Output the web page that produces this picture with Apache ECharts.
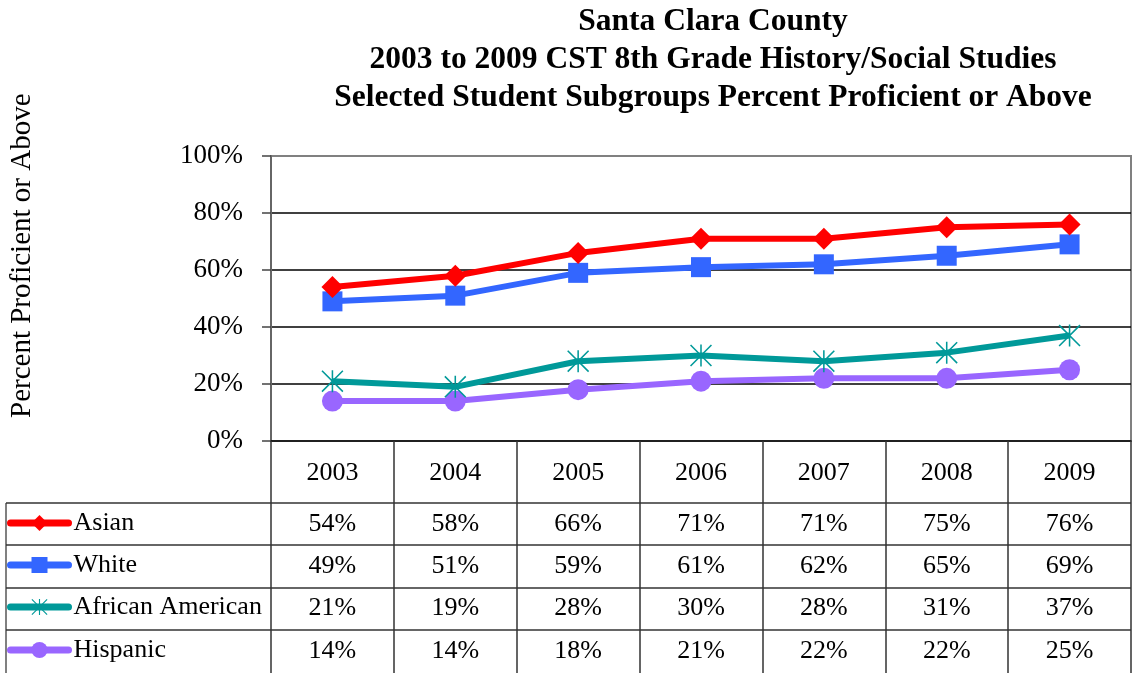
<!DOCTYPE html>
<html>
<head>
<meta charset="utf-8">
<script src="https://cdn.jsdelivr.net/npm/echarts@6/dist/echarts.min.js"></script>
<style>
  html, body { margin: 0; padding: 0; background: #fff; }
  #chart { width: 1132px; height: 673px; }
</style>
</head>
<body>
<div id="chart"></div>
<script>
// data
const years = ["2003", "2004", "2005", "2006", "2007", "2008", "2009"];
const groups = ["Asian", "White", "African American", "Hispanic"];
const asian = [54, 58, 66, 71, 71, 75, 76];
const white = [49, 51, 59, 61, 62, 65, 69];
const africanAmerican = [21, 19, 28, 30, 28, 31, 37];
const hispanic = [14, 14, 18, 21, 22, 22, 25];
const yTicks = [0, 20, 40, 60, 80, 100];

const FONT = "Liberation Serif";
const colors = ["#ff0000", "#3366ff", "#009999", "#9966ff"];
const star = "path://M9.3 0H10.7V20H9.3Z M0 1L1 0L20 19L19 20Z M19 0L20 1L1 20L0 19Z";
const symbols = ["diamond", "rect", star, "circle"];
const symbolSizes = [22, 20, 22, 21];
const values = [asian, white, africanAmerican, hispanic];

// table row layout (pixels)
const rowCenters = [524, 566, 608, 651];
const rowLines = [503, 545, 588, 630];
const axisY = 441;

const el = document.getElementById("chart");
const chart = echarts.init(el, null, { renderer: "canvas" });

const tableAxes = values.map((vals, k) => ({
  type: "category",
  data: years,
  position: "bottom",
  axisLine: { show: false },
  axisTick: { show: false },
  splitLine: { show: false },
  axisLabel: {
    interval: 0,
    margin: rowCenters[k] - axisY - 13,
    fontFamily: FONT,
    fontSize: 26,
    lineHeight: 26,
    color: "#000",
    formatter: (v, i) => vals[i] + "%"
  }
}));

const graphic = [
  {
    type: "text",
    x: 8,
    y: 418,
    rotation: Math.PI / 2,
    style: { text: "Percent Proficient or Above", font: "29px " + FONT, fill: "#000" }
  },
  {
    type: "line",
    shape: { x1: 6, y1: 503, x2: 6, y2: 673 },
    style: { stroke: "#808080", lineWidth: 2 }
  }
].concat(rowLines.map((y) => ({
  type: "line",
  shape: { x1: 6, y1: y, x2: 1131, y2: y },
  style: { stroke: "#333", lineWidth: 1.5 }
})));

const option = {
  backgroundColor: "#fff",
  animation: false,
  title: {
    text: "Santa Clara County\n2003 to 2009 CST 8th Grade History/Social Studies\nSelected Student Subgroups Percent Proficient or Above",
    left: 713,
    top: 3,
    padding: 0,
    textAlign: "center",
    textStyle: { fontFamily: FONT, fontSize: 31.5, fontWeight: "bold", lineHeight: 38, color: "#000" }
  },
  legend: groups.map((name, k) => ({
    data: [name],
    left: 7,
    top: rowCenters[k] - 14,
    padding: 0,
    itemWidth: 58,
    itemHeight: 20,
    itemGap: 0,
    lineStyle: { width: 7, cap: "round" },
    textStyle: { fontFamily: FONT, fontSize: 26, color: "#000" }
  })),
  grid: { left: 271, right: 1, top: 156, bottom: 232, show: true, borderColor: "#808080", borderWidth: 2 },
  xAxis: [
    {
      type: "category",
      data: years,
      position: "bottom",
      axisLine: { lineStyle: { color: "#000", width: 1.5 } },
      axisTick: { show: true, length: 232, lineStyle: { color: "#333", width: 1.5 } },
      axisLabel: {
        interval: 0,
        margin: 473 - axisY - 13,
        fontFamily: FONT,
        fontSize: 26,
        lineHeight: 26,
        color: "#000"
      }
    }
  ].concat(tableAxes),
  yAxis: {
    type: "value",
    min: 0,
    max: 100,
    interval: 20,
    axisLine: { show: true, lineStyle: { color: "#666", width: 2 } },
    axisTick: { show: true, length: 9, lineStyle: { color: "#444", width: 1.5 } },
    axisLabel: {
      margin: 28,
      fontFamily: FONT,
      fontSize: 27,
      color: "#000",
      formatter: (v) => (yTicks.indexOf(v) >= 0 ? v + "%" : "")
    },
    splitLine: { lineStyle: { color: ["#808080", "#000", "#000", "#000", "#000", "#808080"], width: 1.5 } }
  },
  series: groups.map((name, k) => ({
    name: name,
    type: "line",
    data: values[k],
    xAxisIndex: 0,
    symbol: symbols[k],
    symbolSize: symbolSizes[k],
    lineStyle: { color: colors[k], width: 6 },
    itemStyle: { color: colors[k] },
    z: 10 - k
  })),
  graphic: graphic
};

chart.setOption(option);
window.addEventListener("resize", () => chart.resize());
</script>
</body>
</html>
